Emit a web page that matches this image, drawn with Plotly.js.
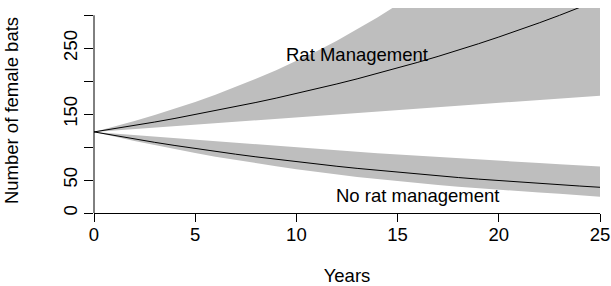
<!DOCTYPE html>
<html>
<head>
<meta charset="utf-8">
<script src="https://cdn.plot.ly/plotly-3.0.1.min.js"></script>
<style>html,body{margin:0;padding:0;background:#fff;}#chart{width:611px;height:286px;}</style>
</head>
<body>
<div id="chart"></div>
<script>
// Data
const years = [0,1,2,3,4,5,6,7,8,9,10,11,12,13,14,15,16,17,18,19,20,21,22,23,24,25];
const ratMean  = [123,127.8,132.8,138.0,143.5,149.3,155.2,161.3,167.7,174.3,181.2,188.4,195.8,203.5,211.6,219.9,228.6,237.6,247.0,256.8,267.0,277.5,288.5,299.9,311.7,324.0];
const ratUpper = [123,131,139.5,148.5,158,168.5,179.5,191,203.5,216.5,230.5,245.5,261.5,278.5,296.5,316,336.5,358,381,406,432,460,490,522,556,592];
const ratLower = [123,125,127,129,131,133,135.3,137.6,139.9,142.2,144.5,146.7,148.9,151.1,153.3,155.5,157.8,160.1,162.4,164.7,167,169.2,171.4,173.6,175.8,178];
const noMean   = [123,117.5,112.2,107.2,102.4,97.8,93.4,89.2,85.2,81.4,77.7,74.2,70.9,67.7,64.7,61.8,59.0,56.4,53.8,51.4,49.1,46.9,44.8,42.8,40.9,39.0];
const noUpper  = [123,120.6,118.2,115.8,113.4,111,108.6,106.2,103.8,101.5,99.3,97.1,95,92.9,90.8,88.8,86.8,84.9,83,81.2,79.4,77.6,75.8,74.1,72.4,70.7];
const noLower  = [123,116,109.3,102.9,96.8,91,85.5,80.3,75.4,70.8,66.4,62.3,58.4,54.8,51.4,48.2,45.2,42.4,39.8,37.4,35.1,33,31,29.1,27.3,24.5];

const xTicks = [0,5,10,15,20,25];
const yTicks = [0,50,100,150,200,250,300];
const yTickText = ['0','50','','150','','250',''];

const labels = {rat: 'Rat Management', noRat: 'No rat management'};
const labelPos = {rat: [13, 241], noRat: [16, 27]};

const Y_MAX = 311;
const FONT = 'Liberation Sans, Arial, Helvetica, sans-serif';
const GREY = '#BEBEBE';

function band(upper, lower, name) {
  return {
    type: 'scatter', mode: 'lines', name: name,
    x: years.concat(years.slice().reverse()),
    y: upper.concat(lower.slice().reverse()),
    fill: 'toself', fillcolor: GREY,
    line: {width: 0, color: GREY},
    hoverinfo: 'skip', showlegend: false
  };
}
function meanLine(vals, name) {
  return {
    type: 'scatter', mode: 'lines', name: name,
    x: years, y: vals,
    line: {color: '#000', width: 1},
    showlegend: false
  };
}

const data = [
  band(ratUpper, ratLower, 'Rat management band'),
  band(noUpper, noLower, 'No rat management band'),
  meanLine(ratMean, labels.rat),
  meanLine(noMean, labels.noRat)
];

const layout = {
  width: 611, height: 286,
  margin: {l: 94, r: 11, t: 8, b: 73, pad: 0},
  paper_bgcolor: '#fff', plot_bgcolor: '#fff',
  font: {family: FONT, size: 18.5, color: '#000'},
  showlegend: false,
  xaxis: {
    range: [0, 25], tickvals: xTicks, ticktext: xTicks.map(String),
    ticks: 'outside', ticklen: 8, tickwidth: 1, tickcolor: '#000',
    ticklabelstandoff: -3,
    showline: true, linecolor: '#000', linewidth: 1,
    showgrid: false, zeroline: false,
    tickfont: {family: FONT, size: 18.5, color: '#000'},
    title: {text: 'Years', font: {family: FONT, size: 18.5, color: '#000'}, standoff: 35}
  },
  yaxis: {
    range: [0, Y_MAX], tickvals: yTicks, ticktext: yTickText,
    tickangle: -90,
    ticks: 'outside', ticklen: 9, tickwidth: 1, tickcolor: '#000',
    showline: false, showgrid: false, zeroline: false,
    tickfont: {family: FONT, size: 18.5, color: '#000'},
    title: {text: 'Number of female bats', font: {family: FONT, size: 18.5, color: '#000'}, standoff: 36}
  },
  shapes: [{
    type: 'line', xref: 'paper', yref: 'paper',
    x0: 0, x1: 0, y0: 0, y1: 300 / Y_MAX,
    line: {color: '#000', width: 1}
  }],
  annotations: [
    {x: labelPos.rat[0], y: labelPos.rat[1], xref: 'x', yref: 'y', text: labels.rat,
     showarrow: false, xanchor: 'center', yanchor: 'middle',
     font: {family: FONT, size: 18.5, color: '#000'}},
    {x: labelPos.noRat[0], y: labelPos.noRat[1], xref: 'x', yref: 'y', text: labels.noRat,
     showarrow: false, xanchor: 'center', yanchor: 'middle',
     font: {family: FONT, size: 18.5, color: '#000'}}
  ]
};

Plotly.newPlot('chart', data, layout, {staticPlot: true, displayModeBar: false});
</script>
</body>
</html>
